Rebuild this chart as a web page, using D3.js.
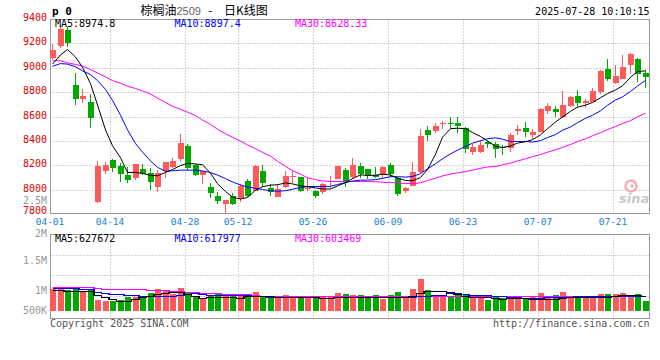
<!DOCTYPE html>
<html><head><meta charset="utf-8">
<script src="https://cdn.jsdelivr.net/npm/d3@7"></script>
<style>body{margin:0;background:#fff}</style>
</head><body>
<svg id="c" width="660" height="360"></svg>
<script>
// ---------- DATA ----------
const opens  = [9083,9181,9310,8858,8746,8719,7898,8155,8243,8196,8120,8098,8167,8134,8024,8155,8188,8249,8358,8202,8120,8019,7948,7880,7948,7929,8071,7991,8155,8011,7942,8024,8106,8101,8003,7991,7983,8065,8087,8161,8101,8194,8167,8120,8120,8202,8093,7989,8032,8142,8489,8483,8536,8544,8544,8503,8311,8311,8393,8374,8352,8339,8481,8508,8448,8475,8648,8664,8598,8686,8768,8708,8721,8803,8990,8877,8908,9022,9069,8954];
const highs  = [9197,9342,9332,8954,8823,8785,8232,8227,8248,8221,8188,8210,8210,8175,8161,8224,8260,8458,8375,8210,8155,8052,7983,7915,7975,8044,8085,8202,8202,8044,8044,8155,8155,8106,8101,7997,8057,8112,8196,8175,8260,8215,8167,8188,8196,8215,8106,8024,8229,8495,8522,8549,8563,8596,8596,8516,8375,8407,8401,8393,8366,8462,8530,8558,8495,8669,8713,8686,8813,8768,8817,8740,8830,8981,9068,9022,9104,9118,9077,8985];
const lows   = [9060,9160,9168,8694,8713,8508,7890,8128,8142,8066,8052,8079,8120,8000,7978,8093,8175,8230,8161,8112,8050,7930,7882,7810,7874,7902,7942,7991,8024,7950,7942,8011,8052,7983,7991,7930,7964,8016,8087,8024,8084,8093,8084,8093,8093,8106,7950,7975,8032,8134,8401,8462,8495,8495,8462,8303,8284,8297,8345,8262,8281,8311,8448,8434,8416,8475,8623,8594,8590,8675,8675,8670,8721,8785,8894,8866,8905,8950,8886,8830];
const closes = [9143,9315,9206,8746,8768,8590,8194,8202,8175,8128,8079,8210,8128,8065,8134,8224,8235,8380,8175,8120,8155,7975,7909,7915,7882,8030,7950,8194,8052,7983,8003,8112,8114,7991,8011,7950,8046,8073,8196,8071,8202,8128,8120,8106,8188,8128,7964,8016,8147,8440,8448,8522,8544,8538,8522,8331,8352,8366,8374,8331,8339,8448,8495,8475,8470,8659,8686,8640,8694,8762,8713,8730,8812,8976,8905,8932,9009,9113,8946,8921];
// volume in thousands of lots
const volumes = [910,980,845,910,816,857,461,408,408,436,571,571,612,734,898,803,707,938,748,571,544,639,680,639,639,639,694,775,612,530,612,653,571,571,571,571,571,571,734,694,653,653,612,653,490,653,775,571,898,1306,857,653,653,612,694,694,571,653,449,571,530,530,571,530,571,734,571,653,775,612,571,571,571,694,694,694,734,612,694,408];
// moving averages
const ma5  = [9030,9105,9150,9088,9004,8870,8694,8490,8360,8262,8141,8141,8133,8117,8114,8141,8165,8198,8215,8211,8204,8135,8049,7985,7938,7923,7935,7995,8023,8037,8040,8055,8047,8031,8024,8014,8005,8005,8030,8058,8090,8121,8116,8118,8127,8120,8094,8075,8073,8099,8165,8290,8430,8500,8504,8500,8469,8436,8400,8355,8346,8358,8382,8393,8410,8450,8500,8555,8596,8643,8676,8693,8715,8754,8788,8818,8851,8922,8968,8975];
const ma10 = [9012,9034,9030,9008,8974,8944,8895,8822,8732,8611,8490,8378,8308,8236,8183,8150,8155,8160,8160,8160,8153,8140,8119,8091,8063,8039,8022,8011,8001,7991,7987,7991,8003,8018,8024,8026,8026,8027,8042,8058,8070,8078,8078,8082,8092,8106,8106,8103,8108,8131,8171,8212,8253,8293,8324,8355,8381,8401,8418,8425,8414,8395,8395,8395,8390,8402,8427,8452,8487,8514,8549,8585,8610,8646,8692,8735,8760,8806,8850,8897];
const ma30 = [9057,9058,9040,9027,9014,8985,8957,8925,8895,8873,8849,8830,8810,8785,8750,8715,8685,8659,8635,8608,8571,8535,8496,8459,8430,8398,8367,8336,8306,8275,8233,8191,8155,8127,8097,8082,8071,8067,8067,8067,8067,8067,8067,8065,8061,8058,8055,8050,8049,8056,8074,8094,8112,8128,8138,8148,8160,8174,8186,8190,8203,8218,8235,8253,8271,8288,8307,8327,8346,8370,8394,8417,8442,8467,8493,8518,8542,8566,8597,8628];
const vma5  = [843,843,835,820,816,816,640,560,480,415,408,470,580,620,690,745,775,775,690,615,550,565,571,571,560,550,600,610,600,595,590,585,571,571,571,560,530,545,560,571,571,571,571,571,571,571,571,571,600,720,830,816,800,760,690,630,571,571,571,544,510,530,530,520,503,503,503,510,540,560,571,571,571,571,571,612,640,640,640,628];
const vma10 = [952,945,938,925,900,884,790,740,700,680,660,650,630,625,625,625,630,653,700,721,700,653,653,653,653,650,645,620,600,590,585,585,585,585,580,560,550,545,560,571,571,571,571,571,571,571,571,571,580,600,630,650,670,720,721,700,670,653,640,612,600,585,571,550,530,540,560,571,580,590,600,605,610,612,615,615,618,618,618,618];
const vma30 = [979,979,979,979,979,979,950,910,910,910,910,910,880,870,860,840,816,816,790,760,748,735,720,706,695,681,681,660,630,610,600,600,600,600,600,600,600,600,600,600,600,600,600,600,600,600,600,600,605,610,610,610,610,612,612,610,608,605,605,605,605,605,605,605,605,605,605,605,605,605,605,605,605,605,605,605,605,604,604,603];

const priceTicks = [9400,9200,9000,8800,8600,8400,8200,8000,7800];
const dateTickIdx = [0,8,18,25,35,45,55,65,75];
const dateTickLabels = ["04-01","04-14","04-28","05-12","05-26","06-09","06-23","07-07","07-21"];
const volTickVals = [2500,2000,1500,1000,500];
const volTickLabels = ["2.5M","2M","1.5M","1M","500K"];
const priceLegend = [["MA5:8974.8","#000"],["MA10:8897.4","#0000ff"],["MA30:8628.33","#ff00ff"]];
const volLegend = [["MA5:627672","#000"],["MA10:617977","#0000ff"],["MA30:603469","#ff00ff"]];

// ---------- DRAW ----------
const UP = "#ff5a5a", DOWN = "#00a800", GRID = "#aaaaaa", FRAME = "#999999";
const MONO = "'DejaVu Sans Mono', monospace";
const svg = d3.select("#c");
svg.append("rect").attr("width",660).attr("height",360).attr("fill","#fff");

const n = closes.length;
const x = d3.scaleBand().domain(d3.range(n)).range([49.25, 649.25]).paddingInner(0.2).paddingOuter(0.1);
const xl = i => Math.round(x(i));
const xc = i => xl(i) + 2.5;
const y = d3.scaleLinear().domain([7800, 9400]).range([214, 19]);
const yVol = d3.scaleLinear().domain([0, 1000]).range([311, 286.5]);
const yVolLab = d3.scaleLinear().domain([1000, 2500]).range([290.7, 200.3]);

const P = {l:50.5, r:649.5, t:19.5, b:213.5};
const V = {t:234.5, b:318.5};

// horizontal grid (price)
svg.append("g").selectAll("line").data(priceTicks.slice(1,-1)).join("line")
  .attr("x1",P.l).attr("x2",P.r)
  .attr("y1",d=>Math.round(y(d))+0.5).attr("y2",d=>Math.round(y(d))+0.5)
  .attr("stroke",GRID).attr("stroke-dasharray","1,2");
// horizontal grid (volume)
svg.append("g").selectAll("line").data([255.5,275.5,296.5]).join("line")
  .attr("x1",P.l).attr("x2",P.r).attr("y1",d=>d).attr("y2",d=>d)
  .attr("stroke",GRID).attr("stroke-dasharray","1,2");
// vertical grid
const vg = svg.append("g");
dateTickIdx.slice(1).forEach(i=>{
  vg.append("line").attr("x1",xl(i)+0.5).attr("x2",xl(i)+0.5).attr("y1",P.t).attr("y2",P.b)
    .attr("stroke",GRID).attr("stroke-dasharray","1,2");
  vg.append("line").attr("x1",xl(i)+0.5).attr("x2",xl(i)+0.5).attr("y1",V.t).attr("y2",V.b+2)
    .attr("stroke",GRID).attr("stroke-dasharray","1,2");
});

// watermark
const wm = svg.append("g");
wm.append("circle").attr("cx",631).attr("cy",186).attr("r",5.5).attr("fill","none").attr("stroke","#f4b0b0").attr("stroke-width",2.5);
wm.append("circle").attr("cx",632).attr("cy",186).attr("r",1.8).attr("fill","#f4b0b0");
wm.append("text").attr("x",619).attr("y",203).attr("font-family","'DejaVu Sans', sans-serif")
  .attr("font-size",13).attr("font-weight","bold").attr("font-style","italic").attr("fill","#c8c8c8").text("sina");

// frames
svg.append("rect").attr("x",P.l).attr("y",P.t).attr("width",P.r-P.l).attr("height",P.b-P.t)
  .attr("fill","none").attr("stroke",FRAME);
svg.append("rect").attr("x",P.l).attr("y",V.t).attr("width",P.r-P.l).attr("height",V.b-V.t)
  .attr("fill","none").attr("stroke",FRAME);

// candles
const cg = svg.append("g").attr("shape-rendering","crispEdges");
d3.range(n).forEach(i=>{
  const o=opens[i], c=closes[i], col = c>=o ? UP : DOWN;
  cg.append("rect").attr("x",xl(i)+2).attr("width",1)
    .attr("y",Math.round(y(highs[i]))).attr("height",Math.max(1,Math.round(y(lows[i]))-Math.round(y(highs[i]))))
    .attr("fill",col);
  const top=Math.round(y(Math.max(o,c))), bot=Math.round(y(Math.min(o,c)));
  cg.append("rect").attr("x",xl(i)).attr("width",6).attr("y",top).attr("height",Math.max(1,bot-top)).attr("fill",col);
});

// volume bars
svg.append("g").attr("shape-rendering","crispEdges").selectAll("rect").data(volumes).join("rect")
  .attr("x",(d,i)=>xl(i)).attr("width",6)
  .attr("y",d=>Math.round(yVol(d))).attr("height",d=>Math.round(yVol(0))-Math.round(yVol(d)))
  .attr("fill",(d,i)=>closes[i]>=opens[i]?UP:DOWN);

// MA lines
const pl = d3.line().x((d,i)=>xc(i)).y(d=>y(d));
[[ma30,"#ff00ff"],[ma10,"#0000ff"],[ma5,"#000"]].forEach(([arr,col])=>{
  svg.append("path").datum(arr).attr("d",pl).attr("fill","none").attr("stroke",col).attr("stroke-width",1);
});
const vl = d3.line().x((d,i)=>xc(i)).y(d=>Math.round(yVol(d))+0.5).curve(d3.curveStep);
[[vma30,"#ff00ff"],[vma10,"#0000ff"],[vma5,"#000"]].forEach(([arr,col])=>{
  svg.append("path").datum(arr).attr("d",vl).attr("fill","none").attr("stroke",col).attr("stroke-width",1.2)
    .attr("shape-rendering","crispEdges");
});

// price axis labels (bottom one kept clear of the date row)
svg.append("g").selectAll("text").data(priceTicks).join("text")
  .attr("x",47).attr("y",d=>Math.min(y(d)+2, 213.6)).attr("text-anchor","end")
  .attr("font-family",MONO).attr("font-size",10).attr("fill","#e00000").text(d=>d);
// volume axis labels (kept clear of the date row above and the panel bottom)
svg.append("g").selectAll("text").data(volTickVals).join("text")
  .attr("x",47).attr("y",d=>{
      const c = yVolLab(d);
      const cc = (c > 215 && c < 233.2) ? 233.2 : c;
      return Math.min(cc,310)+3.6;})
  .attr("text-anchor","end")
  .attr("font-family",MONO).attr("font-size",10).attr("fill","#999").text((d,i)=>volTickLabels[i]);
// date labels
svg.append("g").selectAll("text").data(dateTickIdx).join("text")
  .attr("x",d=>xl(d)).attr("y",225).attr("text-anchor","middle")
  .attr("font-family",MONO).attr("font-size",9.5).attr("fill","#1a80d5").text((d,i)=>dateTickLabels[i]);

// legends
const legX = [55,174.5,295];
priceLegend.forEach(([t,col],i)=>svg.append("text").attr("x",legX[i]).attr("y",27)
  .attr("font-family",MONO).attr("font-size",10).attr("fill",col).text(t));
volLegend.forEach(([t,col],i)=>svg.append("text").attr("x",legX[i]).attr("y",242)
  .attr("font-family",MONO).attr("font-size",10).attr("fill",col).text(t));

// header
svg.append("text").attr("x",52).attr("y",15).attr("font-family",MONO).attr("font-size",11)
  .attr("font-weight","bold").attr("fill","#000").text("p 0");
const CJK = "'Noto Sans CJK SC', sans-serif";
svg.append("text").attr("x",140.5).attr("y",15).attr("font-family",CJK).attr("font-size",12).attr("fill","#000").text("棕榈油");
svg.append("text").attr("x",176.5).attr("y",15).attr("font-family","'Liberation Sans', sans-serif").attr("font-size",11).attr("fill","#666").text("2509");
svg.append("text").attr("x",207).attr("y",14).attr("font-family",MONO).attr("font-size",11).attr("fill","#000").text("-");
svg.append("text").attr("x",224).attr("y",15).attr("font-family",CJK).attr("font-size",12).attr("fill","#000").text("日K线图");
svg.append("text").attr("x",649.5).attr("y",15).attr("text-anchor","end").attr("font-family",MONO).attr("font-size",10).attr("fill","#000").text("2025-07-28 10:10:15");

// footer
svg.append("text").attr("x",50).attr("y",327).attr("font-family",MONO).attr("font-size",10).attr("fill","#555").text("Copyright 2025 SINA.COM");
svg.append("text").attr("x",649.5).attr("y",327).attr("text-anchor","end").attr("font-family",MONO).attr("font-size",10).attr("fill","#555").text("http://finance.sina.com.cn");
</script>
</body></html>
